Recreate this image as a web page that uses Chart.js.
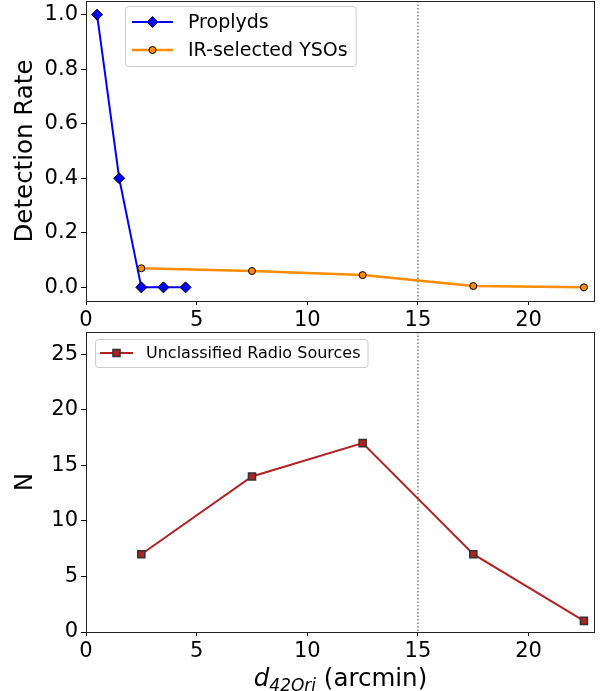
<!DOCTYPE html>
<html>
<head>
<meta charset="utf-8">
<script src="https://cdn.jsdelivr.net/npm/chart.js@4/dist/chart.umd.min.js"></script>
<style>
  html, body { margin: 0; padding: 0; background: #fff; overflow: hidden; }
  body { width: 608px; height: 691px; position: relative; }
  canvas { position: absolute; left: 0; }
  #top { top: 0; }
  #bottom { top: 325px; }
</style>
</head>
<body>
<canvas id="top" width="608" height="330"></canvas>
<canvas id="bottom" width="608" height="366"></canvas>
<script>
// distance bins (arcmin)
const proplydX = [0.5, 1.5, 2.5, 3.5, 4.5];
const proplydRate = [1.0, 0.4, 0.0, 0.0, 0.0];
const ysoX = [2.5, 7.5, 12.5, 17.5, 22.5];
const ysoRate = [0.07, 0.06, 0.045, 0.005, 0.0];
const radioX = [2.5, 7.5, 12.5, 17.5, 22.5];
const radioN = [7, 14, 17, 7, 1];
const cutoff = 15;

const FONT = "'DejaVu Sans', sans-serif";

function pts(xs, ys) {
  return xs.map((x, i) => ({ x: x, y: ys[i] }));
}

// keep the plot box exactly where we want it
function fixY(scale) { scale.width = 86; scale.paddingTop = 0; scale.paddingBottom = 0; }
function fixX(h) {
  return function (scale) { scale.height = h; scale.paddingLeft = 0; scale.paddingRight = 0; };
}

const frame = {
  id: 'frame',
  beforeDatasetsDraw(chart) {
    const { ctx, chartArea: a, scales } = chart;
    const x = scales.x.getPixelForValue(cutoff);
    ctx.save();
    ctx.strokeStyle = '#808080';
    ctx.lineWidth = 1.5;
    ctx.setLineDash([1.5, 2]);
    ctx.beginPath();
    ctx.moveTo(x, a.top);
    ctx.lineTo(x, a.bottom);
    ctx.stroke();
    ctx.restore();
  },
  afterDraw(chart) {
    const { ctx, chartArea: a } = chart;
    ctx.save();
    ctx.strokeStyle = '#222';
    ctx.lineWidth = 1;
    ctx.strokeRect(a.left + 0.5, a.top + 0.5, a.right - a.left - 1, a.bottom - a.top);
    ctx.restore();
  }
};

const boxLegend = {
  id: 'boxLegend',
  afterDraw(chart, args, o) {
    const { ctx, chartArea: a } = chart;
    const sets = chart.data.datasets;
    ctx.save();
    ctx.font = o.font + 'px ' + FONT;
    let w = 0;
    sets.forEach(d => { w = Math.max(w, ctx.measureText(d.label).width); });
    const bx = a.left + o.left, by = a.top + o.top;
    const bw = o.textX + w + o.padRight;
    const bh = o.firstRow * 2 + o.rowHeight * (sets.length - 1);
    ctx.beginPath();
    ctx.roundRect(bx + 0.5, by + 0.5, bw, bh, 3);
    ctx.fillStyle = 'rgba(255,255,255,0.85)';
    ctx.fill();
    ctx.strokeStyle = '#cccccc';
    ctx.lineWidth = 1;
    ctx.stroke();
    sets.forEach((d, i) => {
      const y = by + o.firstRow + i * o.rowHeight;
      ctx.strokeStyle = d.borderColor;
      ctx.lineWidth = d.borderWidth;
      ctx.beginPath();
      ctx.moveTo(bx + o.handle[0], y);
      ctx.lineTo(bx + o.handle[1], y);
      ctx.stroke();
      ctx.fillStyle = d.pointBackgroundColor;
      ctx.strokeStyle = d.pointBorderColor;
      ctx.lineWidth = d.pointBorderWidth;
      Chart.helpers.drawPoint(ctx, {
        pointStyle: d.pointStyle, radius: d.pointRadius, rotation: 0, borderWidth: d.pointBorderWidth
      }, bx + (o.handle[0] + o.handle[1]) / 2, y);
      ctx.fillStyle = '#000';
      ctx.textBaseline = 'middle';
      ctx.textAlign = 'left';
      ctx.fillText(d.label, bx + o.textX, y + 1);
    });
    ctx.restore();
  }
};

// x label with italic d and subscript
const xTitle = {
  id: 'xTitle',
  afterDraw(chart) {
    const { ctx, chartArea: a } = chart;
    const main = 'italic 24.5px ' + FONT, sub = 'italic 17px ' + FONT, plain = '24.5px ' + FONT;
    const parts = [['d', main, 0], ['42Ori', sub, 5], [' (arcmin)', plain, 0]];
    ctx.save();
    let total = 0;
    parts.forEach(p => { ctx.font = p[1]; total += ctx.measureText(p[0]).width; });
    let x = (a.left + a.right) / 2 - total / 2;
    const base = chart.height - 5;
    ctx.fillStyle = '#000';
    ctx.textBaseline = 'alphabetic';
    parts.forEach(p => {
      ctx.font = p[1];
      ctx.fillText(p[0], x, base + p[2]);
      x += ctx.measureText(p[0]).width;
    });
    ctx.restore();
  }
};

function xAxis(h) {
  return {
    type: 'linear', min: 0, max: 23,
    afterFit: fixX(h),
    grid: { drawOnChartArea: false, color: '#000', tickLength: 4, tickWidth: 1 },
    border: { display: false },
    ticks: { stepSize: 5, includeBounds: false, padding: 3, color: '#000', font: { family: FONT, size: 21 } }
  };
}

function yAxis(min, max, step, title, fmt) {
  return {
    type: 'linear', min: min, max: max,
    afterFit: fixY,
    grid: { drawOnChartArea: false, color: '#000', tickLength: 5, tickWidth: 1 },
    border: { display: false },
    title: { display: true, text: title, color: '#000', font: { family: FONT, size: 24.5 }, padding: { top: 11, bottom: 0 } },
    ticks: { stepSize: step, includeBounds: false, padding: 3, color: '#000', font: { family: FONT, size: 21 }, callback: fmt }
  };
}

new Chart(document.getElementById('top'), {
  type: 'line',
  data: {
    datasets: [{
      label: 'Proplyds',
      data: pts(proplydX, proplydRate),
      borderColor: '#0000ff', borderWidth: 2,
      pointStyle: 'rectRot', pointRadius: 5.5,
      pointBackgroundColor: '#0000ff', pointBorderColor: '#000', pointBorderWidth: 1,
      order: 1
    }, {
      label: 'IR-selected YSOs',
      data: pts(ysoX, ysoRate),
      borderColor: '#ff8c00', borderWidth: 2.5,
      pointStyle: 'circle', pointRadius: 3.5,
      pointBackgroundColor: '#ff8c00', pointBorderColor: '#000', pointBorderWidth: 1,
      order: 0
    }]
  },
  options: {
    responsive: false, animation: false,
    layout: { autoPadding: false, padding: { top: 1, right: 13, left: 0, bottom: 0 } },
    scales: {
      x: xAxis(29),
      y: yAxis(-0.05, 1.05, 0.2, 'Detection Rate', v => v.toFixed(1))
    },
    plugins: {
      legend: { display: false }, tooltip: { enabled: false },
      boxLegend: { left: 39, top: 5, firstRow: 16, rowHeight: 28, font: 19, handle: [7, 48], textX: 63, padRight: 8 }
    }
  },
  plugins: [frame, boxLegend]
});

new Chart(document.getElementById('bottom'), {
  type: 'line',
  data: {
    datasets: [{
      label: 'Unclassified Radio Sources',
      data: pts(radioX, radioN),
      borderColor: '#b22222', borderWidth: 2,
      pointStyle: 'rect', pointRadius: 5,
      pointBackgroundColor: '#b22222', pointBorderColor: '#333', pointBorderWidth: 1.5
    }]
  },
  options: {
    responsive: false, animation: false,
    layout: { autoPadding: false, padding: { top: 7, right: 13, left: 0, bottom: 0 } },
    scales: {
      x: xAxis(59),
      y: yAxis(0, 27, 5, 'N', v => String(v))
    },
    plugins: {
      legend: { display: false }, tooltip: { enabled: false },
      boxLegend: { left: 9, top: 7, firstRow: 14, rowHeight: 28, font: 16, handle: [5, 38], textX: 51, padRight: 7 }
    }
  },
  plugins: [frame, boxLegend, xTitle]
});
</script>
</body>
</html>
